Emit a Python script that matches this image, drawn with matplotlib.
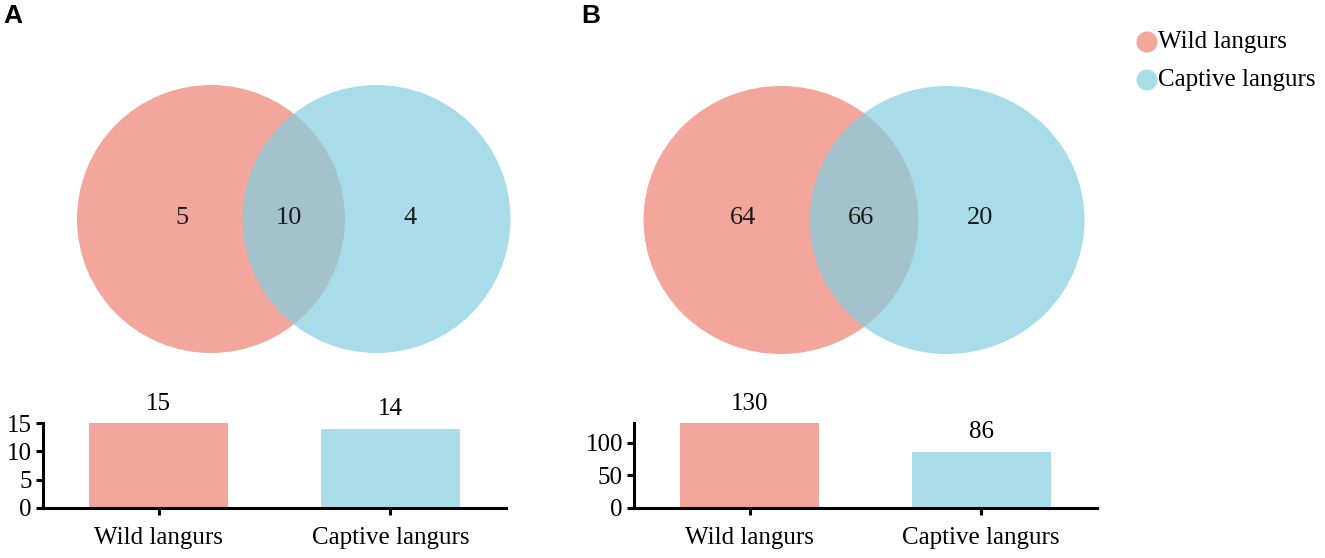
import matplotlib
matplotlib.use("Agg")
import matplotlib.pyplot as plt
from matplotlib.patches import Ellipse

# ---- data ----
groups = ["Wild langurs", "Captive langurs"]
venn_A = [5, 10, 4]        # only wild, shared, only captive
venn_B = [64, 66, 20]
totals_A = [15, 14]
totals_B = [130, 86]
yticks_A = [0, 5, 10, 15]
yticks_B = [0, 50, 100]
panel_labels = ["A", "B"]

# ---- style ----
col_wild = "#F3A69C"
col_capt = "#83CEE0"
col_capt_bar = "#A8DDE9"
capt_alpha = 0.70
serif = ["Liberation Serif", "DejaVu Serif"]

W, H = 1325, 558
fig = plt.figure(figsize=(W / 100, H / 100), dpi=100)

# overlay axes in pixel coordinates for Venn + legend + panel labels
ov = fig.add_axes([0, 0, 1, 1])
ov.set_xlim(0, W)
ov.set_ylim(H, 0)
ov.axis("off")

venn_layout = [
    dict(cx=(211, 376.5), cy=219, rx=134, ry=134, tx=(182, 289, 410), ty=218, lab=(3, 4)),
    dict(cx=(781, 947), cy=220, rx=137.5, ry=134, tx=(743, 861, 980), ty=218, lab=(581, 4)),
]
for lay, vals, pl in zip(venn_layout, [venn_A, venn_B], panel_labels):
    ov.add_patch(Ellipse((lay["cx"][0], lay["cy"]), 2 * lay["rx"], 2 * lay["ry"],
                         facecolor=col_wild, edgecolor="none", zorder=1))
    ov.add_patch(Ellipse((lay["cx"][1], lay["cy"]), 2 * lay["rx"], 2 * lay["ry"],
                         facecolor=col_capt, alpha=capt_alpha, edgecolor="none", zorder=2))
    for x, v in zip(lay["tx"], vals):
        ov.text(x, lay["ty"], str(v), ha="center", va="center", fontsize=19,
                family=serif, color="#1a1a1a", zorder=3)
    ov.text(lay["lab"][0], lay["lab"][1], pl, ha="left", va="top", fontsize=19,
            fontweight="bold", family=["Liberation Sans", "DejaVu Sans"])

# legend
for yy, name, c in zip([42, 80], groups, [col_wild, col_capt_bar]):
    ov.scatter([1147], [yy], s=230, color=c, edgecolors="none", zorder=3)
    ov.text(1158, yy, name, ha="left", va="center", fontsize=18, family=serif)

# ---- bar charts ----
bar_axes_px = [(43, 506), (634, 1097)]
top_px, bot_px = 423, 508
for (l, r), vals, ticks in zip(bar_axes_px, [totals_A, totals_B], [yticks_A, yticks_B]):
    ax = fig.add_axes([l / W, (H - bot_px) / H, (r - l) / W, (bot_px - top_px) / H])
    x = range(len(groups))
    ax.bar(x, vals, width=0.6, color=[col_wild, col_capt_bar], edgecolor="none")
    for xi, v in zip(x, vals):
        ax.text(xi, v + max(vals) * 0.1, str(v), ha="center", va="bottom",
                fontsize=18, family=serif)
    ax.set_xlim(-0.5, 1.5)
    ax.set_ylim(0, max(vals))
    ax.set_xticks(list(x))
    ax.set_xticklabels(groups, family=serif, fontsize=18)
    ax.set_yticks(ticks)
    ax.set_yticklabels([str(t) for t in ticks], family=serif, fontsize=18)
    for s in ["top", "right"]:
        ax.spines[s].set_visible(False)
    for s in ["left", "bottom"]:
        ax.spines[s].set_linewidth(2.2)
    ax.tick_params(axis="both", width=2.2, length=5)
    ax.tick_params(axis="x", pad=9)
    ax.tick_params(axis="y", pad=3)
    ax.set_facecolor("none")

fig.savefig("out.png", dpi=100)
